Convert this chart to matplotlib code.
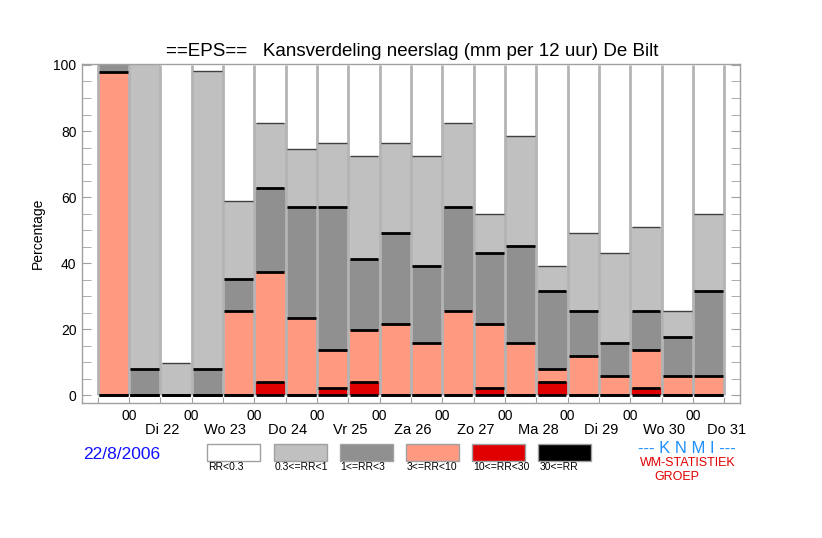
import matplotlib
matplotlib.use("Agg")
import matplotlib.pyplot as plt
from matplotlib.patches import Rectangle
import numpy as np

plt.rcParams['font.family'] = ['Liberation Sans', 'DejaVu Sans']

# ---- data (percentages per 12-hour period) ----
classes = ["30<=RR", "10<=RR<30", "3<=RR<10", "1<=RR<3", "0.3<=RR<1", "RR<0.3"]
p_30 = [0]*20
p_10_30 = [0, 0, 0, 0, 0, 3.9, 0, 2.0, 3.9, 0, 0, 0, 2.0, 0, 3.9, 0, 0, 2.0, 0, 0]
p_3_10 = [98.0, 0, 0, 0, 25.5, 33.4, 23.5, 11.7, 15.7, 21.6, 15.7, 25.5, 19.6, 15.7, 3.9, 11.8, 5.9, 11.7, 5.9, 5.9]
p_1_3 = [2.0, 7.8, 0, 7.8, 9.8, 25.4, 33.4, 43.2, 21.6, 27.4, 23.5, 31.4, 21.5, 29.4, 23.6, 13.7, 9.8, 11.8, 11.7, 25.5]
p_03_1 = [0, 92.2, 9.8, 90.4, 23.5, 19.7, 17.6, 19.6, 31.3, 27.5, 33.3, 25.5, 11.8, 33.3, 7.8, 23.5, 27.4, 25.5, 7.9, 23.5]
p_lt03 = [0, 0, 90.2, 2.0, 41.2, 17.6, 25.5, 23.5, 27.5, 23.5, 27.5, 17.6, 45.1, 21.6, 60.8, 51.0, 56.9, 49.0, 74.5, 45.1]
hour_labels = ["00"]*10
day_labels = ["Di 22", "Wo 23", "Do 24", "Vr 25", "Za 26", "Zo 27", "Ma 28", "Di 29", "Wo 30", "Do 31"]
colors = ["#000000", "#e00000", "#ff9a80", "#909090", "#c0c0c0", "#ffffff"]

series = [p_30, p_10_30, p_3_10, p_1_3, p_03_1, p_lt03]

W, H = 822, 538
fig = plt.figure(figsize=(W/100, H/100), dpi=100)
def fx(x): return x / W
def fy(y): return 1 - y / H

ax = fig.add_axes([fx(82), fy(403), fx(740) - fx(82), fy(64) - fy(403)])
n = len(p_3_10)
x = np.arange(n) + 0.5
bottom = np.zeros(n)
tops = []
for vals, c in zip(series, colors):
    v = np.array(vals, dtype=float)
    ax.bar(x, v, width=1.0, bottom=bottom, color=c, edgecolor='none', zorder=1)
    bottom = bottom + v
    tops.append(bottom.copy())

# separators between bars
ax.vlines(np.arange(n + 1), 0, 100, colors="#b4b4b4", linewidth=2.0, zorder=2)

# boundary lines on top of each class segment
for k, t in enumerate(tops[:5]):
    for i in range(n):
        if t[i] >= 99.9:
            continue
        if k == 4:
            ax.hlines(t[i], i + 0.04, i + 0.96, colors="#404040", linewidth=1.0, zorder=3)
        else:
            ax.hlines(t[i], i + 0.04, i + 0.96, colors="#000000", linewidth=2.0, zorder=3)

ax.set_xlim(-0.5, 20.5)
ax.set_ylim(-2.4, 100.3)
ax.set_yticks(np.arange(0, 101, 20))
ax.set_yticks(np.arange(0, 101, 5), minor=True)
ax.set_xticks(np.arange(n + 1))
ax.set_xticklabels([])
ax.tick_params(axis='y', which='both', direction='in', left=True, right=True,
               length=6.5, color='#a0a0a0', labelsize=10, pad=4)
ax.tick_params(axis='x', which='both', direction='in', length=4.5, color='#a0a0a0')
for s in ax.spines.values():
    s.set_color('#a0a0a0')
    s.set_linewidth(1.0)
ax.set_ylabel("Percentage", fontsize=10, labelpad=6)

# time labels
for j, h in enumerate(hour_labels):
    xp = ax.transData.transform((2 * j + 1, 0))[0]
    fig.text(fx(xp), fy(416.5), h, ha='center', va='center', fontsize=10)
for j, d in enumerate(day_labels):
    xp = ax.transData.transform((2 * j + 2, 0))[0]
    fig.text(fx(xp + 2), fy(430), d, ha='center', va='center', fontsize=10.5)

fig.text(fx(412), fy(51), "==EPS==   Kansverdeling neerslag (mm per 12 uur) De Bilt",
         ha='center', va='center', fontsize=13.5)

fig.text(fx(122), fy(454.5), "22/8/2006", ha='center', va='center', fontsize=12.5, color='#1010ff')

# legend boxes
leg_order = [5, 4, 3, 2, 1, 0]
for k, ci in enumerate(leg_order):
    x0 = 207.3 + k * 66.2
    fig.patches.append(Rectangle((fx(x0), fy(461)), fx(53), 17 / H, transform=fig.transFigure,
                                 facecolor=colors[ci], edgecolor='#a0a0a0', linewidth=1.0))
    fig.text(fx(x0 + 1), fy(467.5), classes[ci], ha='left', va='center', fontsize=7.5)

fig.text(fx(687), fy(448.5), "--- K N M I ---", ha='center', va='center', fontsize=12, color='#2090ff')
fig.text(fx(688), fy(463), "WM-STATISTIEK", ha='center', va='center', fontsize=9, color='#e00000')
fig.text(fx(676.5), fy(476.5), "GROEP", ha='center', va='center', fontsize=9, color='#e00000')

fig.savefig("out.png", dpi=100)
